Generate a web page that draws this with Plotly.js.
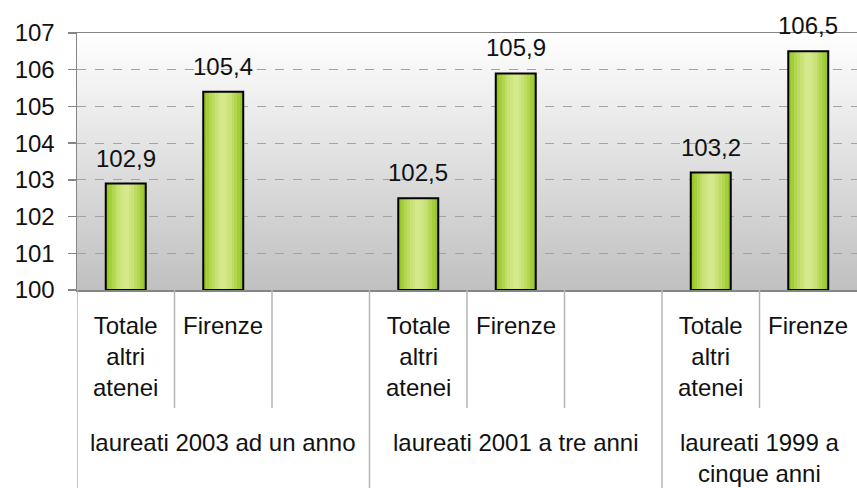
<!DOCTYPE html>
<html>
<head>
<meta charset="utf-8">
<script src="https://cdn.plot.ly/plotly-3.0.1.min.js"></script>
<style>
  html, body { margin: 0; padding: 0; background: #ffffff; }
  #chart { width: 857px; height: 488px; }
</style>
</head>
<body>
<div id="chart"></div>
<script>
// ---- data ----
const groupLabels = ['laureati 2003 ad un anno', 'laureati 2001 a tre anni', 'laureati 1999 a<br>cinque anni'];
const categoryLabels = ['Totale<br>altri<br>atenei', 'Firenze'];
const totaleAltriAtenei = [102.9, 102.5, 103.2];
const firenze = [105.4, 105.9, 106.5];
const yTickValues = [100, 101, 102, 103, 104, 105, 106, 107];

// slot layout: each group = [Totale, Firenze, (gap)]
const slotsPerGroup = 3;
const nSlots = 8;
const xs = [], ys = [], txt = [];
groupLabels.forEach((g, i) => {
  xs.push(i * slotsPerGroup);     ys.push(totaleAltriAtenei[i]);
  xs.push(i * slotsPerGroup + 1); ys.push(firenze[i]);
});
ys.forEach(v => txt.push(v.toFixed(1).replace('.', ',')));

const FONT = 'Liberation Sans, Arial, sans-serif';
const TXT = '#111111';

// gradient layers for bars (outer -> inner)
const layerWidths = [0.41, 0.35, 0.29, 0.23, 0.17, 0.11, 0.06];
const layerColors = ['#96c628', '#a4cf3a', '#b2d64f', '#bedc64', '#c8e275', '#cfe582', '#d4e88c'];
const traces = layerWidths.map((w, k) => ({
  type: 'bar', x: xs, y: ys.map(v => v - 100), base: 100,
  width: w, marker: { color: layerColors[k], line: { width: 0 } },
  hoverinfo: 'skip', showlegend: false
}));
traces.push({
  type: 'bar', x: xs, y: ys.map(v => v - 100), base: 100,
  width: layerWidths[0], marker: { color: 'rgba(0,0,0,0)', line: { color: '#000000', width: 2 } },
  hoverinfo: 'skip', showlegend: false
});

const annotations = [];
// value labels
xs.forEach((x, i) => annotations.push({
  x: x, y: ys[i], xref: 'x', yref: 'y', text: txt[i], showarrow: false,
  yanchor: 'bottom', yshift: 10, font: { family: FONT, size: 24, color: TXT }
}));
// category labels
xs.forEach((x, i) => annotations.push({
  x: x, y: 0, xref: 'x', yref: 'paper', text: categoryLabels[i % 2], showarrow: false,
  yanchor: 'top', yshift: -20, align: 'center', font: { family: FONT, size: 24, color: TXT }
}));
// group labels
groupLabels.forEach((g, i) => {
  const start = i * slotsPerGroup - 0.5;
  const end = Math.min(start + slotsPerGroup, nSlots - 0.5);
  annotations.push({
    x: (start + end) / 2, y: 0, xref: 'x', yref: 'paper', text: g, showarrow: false,
    yanchor: 'top', yshift: -137, align: 'center', font: { family: FONT, size: 24, color: TXT }
  });
});

// separators below the axis
const shapes = [];
for (let b = 0; b < nSlots; b++) {
  const xb = b - 0.5;
  const isGroup = (b % slotsPerGroup === 0);
  shapes.push({
    type: 'line', xref: 'x', yref: 'paper', ysizemode: 'pixel', yanchor: 0,
    x0: xb, x1: xb, y0: 0, y1: isGroup ? -200 : -118,
    line: { color: '#b4b4b4', width: 1.5 }, layer: 'above'
  });
}

const bgSvg = 'data:image/svg+xml;utf8,' + encodeURIComponent(
  '<svg xmlns="http://www.w3.org/2000/svg" width="10" height="100" viewBox="0 0 10 100" preserveAspectRatio="none">' +
  '<defs><linearGradient id="g" x1="0" y1="0" x2="0" y2="1">' +
  '<stop offset="0" stop-color="#ffffff"/><stop offset="1" stop-color="#c0c0c0"/></linearGradient></defs>' +
  '<rect width="10" height="100" fill="url(#g)"/></svg>');

const layout = {
  width: 857, height: 488,
  margin: { l: 77, r: 0, t: 33, b: 198 },
  paper_bgcolor: '#ffffff', plot_bgcolor: 'rgba(0,0,0,0)',
  barmode: 'overlay', bargap: 0,
  separators: ',.',
  showlegend: false,
  images: [{ source: bgSvg, xref: 'paper', yref: 'paper', x: 0, y: 1, sizex: 1, sizey: 1,
             sizing: 'stretch', xanchor: 'left', yanchor: 'top', layer: 'below' }],
  xaxis: {
    range: [-0.5, nSlots - 0.5], showticklabels: false, ticks: '', showgrid: false, zeroline: false,
    showline: true, mirror: true, linecolor: '#858585', linewidth: 1.5, fixedrange: true
  },
  yaxis: {
    range: [100, 107], tickvals: yTickValues, ticktext: yTickValues.map(String),
    ticks: 'outside', ticklen: 8, tickwidth: 1.5, tickcolor: '#858585',
    ticklabelstandoff: 8,
    showline: true, linecolor: '#858585', linewidth: 1.5, mirror: false,
    showgrid: true, gridcolor: '#a3a3a3', gridwidth: 1.2, griddash: 'dash',
    zeroline: false, tickfont: { family: FONT, size: 24, color: TXT }, fixedrange: true
  },
  annotations: annotations,
  shapes: shapes
};

Plotly.newPlot('chart', traces, layout, { displayModeBar: false, staticPlot: true });
</script>
</body>
</html>
